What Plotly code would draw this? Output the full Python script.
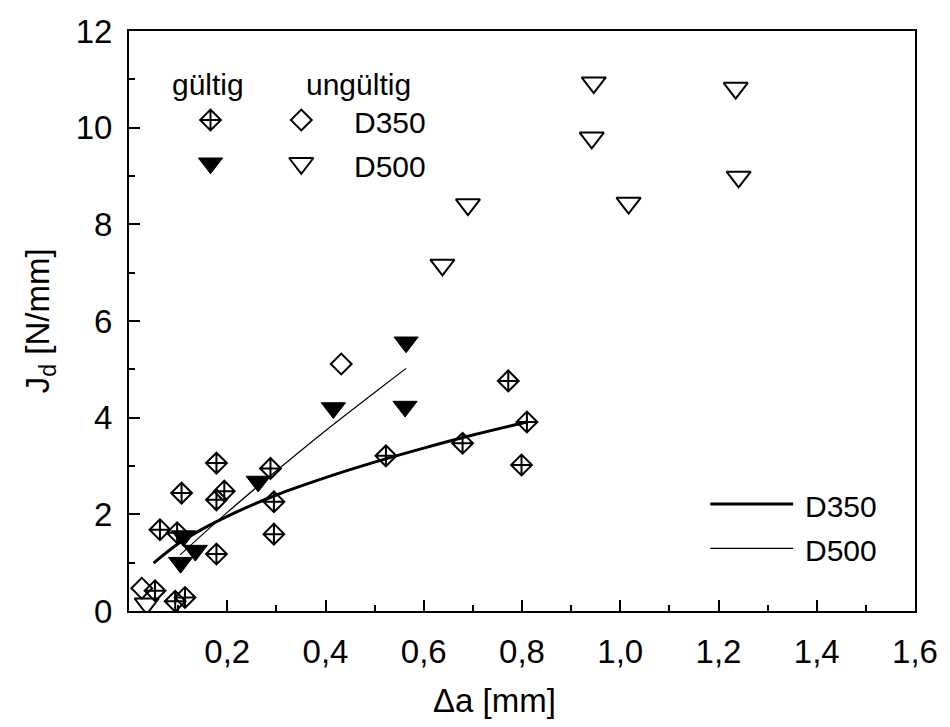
import plotly.graph_objects as go

# ---- data ----
# D350 valid (diamond with cross)
d350_valid_x = [0.053, 0.063, 0.094, 0.098, 0.107, 0.114, 0.178, 0.178, 0.178, 0.194, 0.288, 0.295, 0.295,
                0.523, 0.679, 0.772, 0.799, 0.810]
d350_valid_y = [0.42, 1.68, 0.20, 1.62, 2.44, 0.28, 3.06, 2.30, 1.18, 2.48, 2.95, 2.26, 1.59,
                3.21, 3.47, 4.76, 3.02, 3.91]
# D350 invalid (open diamond)
d350_invalid_x = [0.026, 0.432]
d350_invalid_y = [0.47, 5.11]
# D500 valid (filled triangle)
d500_valid_x = [0.105, 0.111, 0.135, 0.263, 0.416, 0.562, 0.564]
d500_valid_y = [1.00, 1.55, 1.25, 2.68, 4.20, 4.23, 5.56]
# D500 invalid (open triangle)
d500_invalid_x = [0.036, 0.638, 0.690, 0.942, 0.946, 1.017, 1.235, 1.241]
d500_invalid_y = [0.15, 7.16, 8.41, 9.79, 10.93, 8.44, 10.82, 8.98]

# fit curves
fit350_x = [0.05, 0.10, 0.15, 0.20, 0.30, 0.40, 0.50, 0.60, 0.70, 0.81]
fit350_y = [0.99, 1.39, 1.70, 1.96, 2.40, 2.76, 3.08, 3.37, 3.64, 3.91]
fit500_x = [0.104, 0.20, 0.30, 0.40, 0.50, 0.564]
fit500_y = [1.16, 2.04, 2.90, 3.73, 4.52, 5.02]

x_tickvals = [0.2, 0.4, 0.6, 0.8, 1.0, 1.2, 1.4, 1.6]
x_ticktext = ["0,2", "0,4", "0,6", "0,8", "1,0", "1,2", "1,4", "1,6"]
y_tickvals = [0, 2, 4, 6, 8, 10, 12]
y_ticktext = ["0", "2", "4", "6", "8", "10", "12"]

legend_labels = ["gültig", "ungültig", "D350", "D500"]
line_legend_labels = ["D350", "D500"]

FONT = "Liberation Sans, Arial, sans-serif"
FS = 30
FS_TICK = 33
FS_TITLE = 33
BLACK = "black"

fig = go.Figure()

sym_cross = dict(symbol="diamond-cross-open", size=16, color=BLACK, line=dict(width=2, color=BLACK))
sym_dia = dict(symbol="diamond-open", size=16, color=BLACK, line=dict(width=2, color=BLACK))
sym_tri = dict(symbol="triangle-down", size=21, color=BLACK, line=dict(width=1, color=BLACK))
sym_tri_open = dict(symbol="triangle-down-open", size=21, color=BLACK, line=dict(width=2, color=BLACK))

fig.add_trace(go.Scatter(x=d350_valid_x, y=d350_valid_y, mode="markers", marker=sym_cross, showlegend=False))
fig.add_trace(go.Scatter(x=d350_invalid_x, y=d350_invalid_y, mode="markers", marker=sym_dia, showlegend=False))
fig.add_trace(go.Scatter(x=d500_valid_x, y=d500_valid_y, mode="markers", marker=sym_tri, showlegend=False))
fig.add_trace(go.Scatter(x=d500_invalid_x, y=d500_invalid_y, mode="markers", marker=sym_tri_open, showlegend=False))
fig.add_trace(go.Scatter(x=fit350_x, y=fit350_y, mode="lines", line=dict(color=BLACK, width=3),
                         line_shape="spline", showlegend=False))
fig.add_trace(go.Scatter(x=fit500_x, y=fit500_y, mode="lines", line=dict(color=BLACK, width=1.2),
                         line_shape="spline", showlegend=False))

# ---- legend (top-left), drawn on a hidden overlay axis in plot-fraction units ----
leg_col_x = [0.1037, 0.2192]
leg_row_y = [0.8466, 0.772]
fig.add_trace(go.Scatter(x=[leg_col_x[0]], y=[leg_row_y[0]], mode="markers", marker=sym_cross,
                         xaxis="x2", yaxis="y2", showlegend=False))
fig.add_trace(go.Scatter(x=[leg_col_x[1]], y=[leg_row_y[0]], mode="markers", marker=sym_dia,
                         xaxis="x2", yaxis="y2", showlegend=False))
fig.add_trace(go.Scatter(x=[leg_col_x[0]], y=[leg_row_y[1]], mode="markers", marker=sym_tri,
                         xaxis="x2", yaxis="y2", showlegend=False))
fig.add_trace(go.Scatter(x=[leg_col_x[1]], y=[leg_row_y[1]], mode="markers", marker=sym_tri_open,
                         xaxis="x2", yaxis="y2", showlegend=False))

ann = []
ann.append(dict(x=0.1007, y=0.908, text=legend_labels[0], xanchor="center", yanchor="middle"))
ann.append(dict(x=0.292, y=0.908, text=legend_labels[1], xanchor="center", yanchor="middle"))
ann.append(dict(x=0.2843, y=0.842, text=legend_labels[2], xanchor="left", yanchor="middle"))
ann.append(dict(x=0.2843, y=0.766, text=legend_labels[3], xanchor="left", yanchor="middle"))
# line legend (bottom-right)
ann.append(dict(x=0.858, y=0.181, text=line_legend_labels[0], xanchor="left", yanchor="middle"))
ann.append(dict(x=0.858, y=0.105, text=line_legend_labels[1], xanchor="left", yanchor="middle"))
for a in ann:
    a.update(font=dict(family=FONT, size=FS, color=BLACK))
# axis titles
ann.append(dict(x=0.465, y=-0.155, text="Δa [mm]", xanchor="center", yanchor="middle",
                font=dict(family=FONT, size=FS_TITLE, color=BLACK)))
ann.append(dict(x=-0.113, y=0.5, text="J<sub>d</sub> [N/mm]", xanchor="center", yanchor="middle",
                textangle=-90, font=dict(family=FONT, size=FS_TITLE, color=BLACK)))
for a in ann:
    a.update(xref="paper", yref="paper", showarrow=False)

shapes = [
    dict(type="line", xref="paper", yref="paper", x0=0.7395, x1=0.845, y0=0.1845, y1=0.1845,
         line=dict(color=BLACK, width=3)),
    dict(type="line", xref="paper", yref="paper", x0=0.7395, x1=0.845, y0=0.108, y1=0.108,
         line=dict(color=BLACK, width=1.2)),
]

axis_common = dict(showgrid=False, zeroline=False, showline=True, linewidth=2, linecolor=BLACK,
                   mirror=True, ticks="inside", ticklen=11, tickwidth=2, tickcolor=BLACK,
                   tickfont=dict(family=FONT, size=FS_TICK, color=BLACK))

fig.update_layout(
    width=950, height=727,
    margin=dict(l=129, r=33, t=31, b=116),
    plot_bgcolor="white", paper_bgcolor="white",
    xaxis=dict(range=[0, 1.6], tickmode="array", tickvals=x_tickvals, ticktext=x_ticktext,
               minor=dict(dtick=0.1, tick0=0, ticks="inside", ticklen=6, tickwidth=2, tickcolor=BLACK),
               ticklabelstandoff=10, **axis_common),
    yaxis=dict(range=[0, 12], tickmode="array", tickvals=y_tickvals, ticktext=y_ticktext,
               minor=dict(dtick=1, tick0=0, ticks="inside", ticklen=6, tickwidth=2, tickcolor=BLACK),
               ticklabelstandoff=8, **axis_common),
    xaxis2=dict(range=[0, 1], overlaying="x", visible=False, anchor="y2"),
    yaxis2=dict(range=[0, 1], overlaying="y", visible=False, anchor="x2"),
    annotations=ann,
    shapes=shapes,
    showlegend=False,
)

fig.write_html("out.html")
